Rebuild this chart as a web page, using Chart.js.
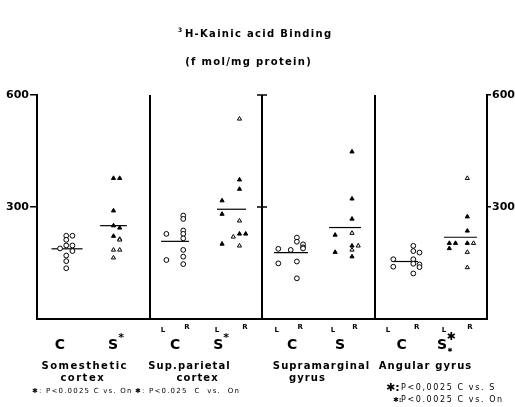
<!DOCTYPE html>
<html>
<head>
<meta charset="utf-8">
<script src="https://cdn.jsdelivr.net/npm/chart.js@4.4.0/dist/chart.umd.min.js"></script>
<style>
  html, body { margin: 0; padding: 0; background: #fff; }
  #wrap { width: 515px; height: 407px; position: relative; }
</style>
</head>
<body>
<div id="wrap"><canvas id="c"></canvas></div>
<script>
// ---- data (fmol/mg protein) ----
const yTicks = [300, 600];
const panelNames = [['Somesthetic', 'cortex'], ['Sup.parietal', 'cortex'], ['Supramarginal', 'gyrus'], ['Angular gyrus']];
const groupNames = ['C', 'S'];
const sideNames = ['L', 'R'];

// Somesthetic cortex (no L/R split)
const somC = [223, 223, 212, 197, 197, 189, 182, 170, 155, 136];
const somSFill = [377, 377, 290, 250, 244, 222];
const somSOpen = [214, 212, 185, 185, 164];
const somMean = [188, 250];

// Sup. parietal cortex
const spcCL = [228, 158];
const spcCR = [277, 268, 237, 228, 216, 185, 167, 147];
const spcSLFill = [317, 281, 201];
const spcSRFill = [373, 348, 228, 228];
const spcSROpen = [536, 263, 220, 196];
const spcMean = [208, 294];

// Supramarginal gyrus
const smgCL = [188, 149];
const smgCR = [218, 207, 200, 192, 189, 185, 154, 109];
const smgSLFill = [225, 179];
const smgSRFill = [448, 322, 268, 196, 167];
const smgSROpen = [230, 196, 185];
const smgMean = [178, 245];

// Angular gyrus
const angCL = [160, 140];
const angCR = [196, 182, 178, 160, 148, 146, 139, 122];
const angSLFill = [203, 203, 189];
const angSRFill = [236, 274, 203];
const angSROpen = [377, 203, 179, 138];
const angMean = [154, 219];

const footLeft = ['\u2731: P<0.0025 C vs. On', '\u2731: P<0.025  C  vs.  On'];
const footRight = ['P<0,0025 C vs. S', 'P<0.0025 C vs. On'];

// ---- layout helpers ----
const BLACK = '#000';
const STYLE = {
  oc: { pointStyle: 'circle', pointRadius: 2.4, pointBackgroundColor: '#fff', pointBorderColor: BLACK, pointBorderWidth: 1 },
  ft: { pointStyle: 'triangle', pointRadius: 2.4, pointBackgroundColor: BLACK, pointBorderColor: BLACK, pointBorderWidth: 1 },
  ot: { pointStyle: 'triangle', pointRadius: 2.4, pointBackgroundColor: '#fff', pointBorderColor: BLACK, pointBorderWidth: 1 },
};

// column: [panel, x fraction inside panel, values, style, column key]
const columns = [
  [0, 0.26, somC, 'oc', 'a'], [0, 0.68, somSFill, 'ft', 'b'], [0, 0.68, somSOpen, 'ot', 'b'],
  [1, 0.15, spcCL, 'oc', 'a'], [1, 0.30, spcCR, 'oc', 'b'], [1, 0.645, spcSLFill, 'ft', 'c'],
  [1, 0.80, spcSRFill, 'ft', 'd'], [1, 0.80, spcSROpen, 'ot', 'd'],
  [2, 0.145, smgCL, 'oc', 'a'], [2, 0.31, smgCR, 'oc', 'b'], [2, 0.65, smgSLFill, 'ft', 'c'],
  [2, 0.80, smgSRFill, 'ft', 'd'], [2, 0.80, smgSROpen, 'ot', 'd'],
  [3, 0.167, angCL, 'oc', 'a'], [3, 0.345, angCR, 'oc', 'b'], [3, 0.665, angSLFill, 'ft', 'c'],
  [3, 0.825, angSRFill, 'ft', 'd'], [3, 0.825, angSROpen, 'ot', 'd'],
];
const means = [somMean, spcMean, smgMean, angMean];
const meanCenter = [[0.267, 0.68], [0.227, 0.729], [0.258, 0.738], [0.276, 0.764]];
const meanHalf = [[0.138, 0.119], [0.124, 0.129], [0.151, 0.142], [0.11, 0.147]];

// spread points that sit on nearly the same value sideways
const placed = {};
const datasets = [];
columns.forEach(([p, f, vals, st, key]) => {
  const id = p + key;
  placed[id] = placed[id] || [];
  const pts = vals.map(v => {
    const k = placed[id].filter(u => Math.abs(u - v) < 9).length;
    placed[id].push(v);
    const off = k === 0 ? 0 : (k % 2 ? 1 : -1) * Math.ceil(k / 2) * 0.055;
    return { x: p + f + off, y: v };
  });
  datasets.push(Object.assign({ type: 'scatter', data: pts }, STYLE[st]));
});
means.forEach((m, p) => {
  m.forEach((v, g) => {
    const c = p + meanCenter[p][g], h = meanHalf[p][g];
    datasets.push({
      type: 'line', data: [{ x: c - h, y: v }, { x: c + h, y: v }],
      borderColor: BLACK, borderWidth: 1.2, pointRadius: 0, fill: false,
    });
  });
});

// text placement (fractions of a panel)
const cLabelX = [0.204, 0.227, 0.267, 0.242];
const sLabelX = [0.676, 0.611, 0.693, 0.60];
const lrX = [null, [0.12, 0.333, 0.60, 0.849], [0.13, 0.34, 0.63, 0.827], [0.12, 0.376, 0.618, 0.849]];
const nameX = [[84, 82], [189, 197], [321, 307], [425]];

function txt(ctx, s, x, y, font, sp, align) {
  ctx.font = font;
  ctx.letterSpacing = (sp || 0) + 'px';
  ctx.textAlign = align || 'center';
  ctx.textBaseline = 'middle';
  ctx.fillStyle = BLACK;
  let xx = x;
  if ((align || 'center') === 'center' && sp) xx += sp / 2;
  ctx.fillText(s, xx, y);
}

const annot = {
  id: 'annot',
  afterDraw(chart) {
    const ctx = chart.ctx;
    const xs = chart.scales.x, ys = chart.scales.y;
    const X = v => xs.getPixelForValue(v);
    ctx.save();
    // title
    txt(ctx, 'H-Kainic acid Binding', 258, 34, 'bold 10px "DejaVu Sans"', 1.3);
    txt(ctx, '3', 180, 30, 'bold 6px "DejaVu Sans"', 0);
    txt(ctx, '(f mol/mg protein)', 248, 62, 'bold 10px "DejaVu Sans"', 1.3);

    // ticks on the divider between panels 2 and 3
    ctx.strokeStyle = BLACK; ctx.lineWidth = 1.5;
    yTicks.forEach(t => {
      const y = ys.getPixelForValue(t);
      ctx.beginPath(); ctx.moveTo(X(2) - 5, y); ctx.lineTo(X(2) + 5, y); ctx.stroke();
    });

    for (let p = 0; p < 4; p++) {
      const gx = [X(p + cLabelX[p]), X(p + sLabelX[p])];
      txt(ctx, groupNames[0], gx[0], 345, 'bold 14px "DejaVu Sans"', 0);
      txt(ctx, groupNames[1], gx[1], 345, 'bold 14px "DejaVu Sans"', 0);
      if (p < 2) txt(ctx, '*', gx[1] + 8, 338, 'bold 11px "DejaVu Sans"', 0);
      if (p === 3) {
        txt(ctx, '\u2731', gx[1] + 9, 337, 'bold 11px "DejaVu Sans"', 0);
        txt(ctx, '\u2731', gx[1] + 8, 350, 'bold 6px "DejaVu Sans"', 0);
      }
      if (lrX[p]) {
        lrX[p].forEach((f, i) => {
          txt(ctx, sideNames[i % 2], X(p + f), i % 2 ? 327 : 330, 'bold 7px "DejaVu Sans"', 0);
        });
      }
      panelNames[p].forEach((line, i) => {
        txt(ctx, line, nameX[p][i], 366 + i * 12, 'bold 10px "DejaVu Sans"', p === 0 ? 1.5 : 1.1);
      });
    }

    // footnotes
    txt(ctx, footLeft[0], 32, 391, '7px "DejaVu Sans"', 1.2, 'left');
    txt(ctx, footLeft[1], 135, 391, '7px "DejaVu Sans"', 1.2, 'left');
    txt(ctx, '\u2731:', 386, 388, 'bold 11px "DejaVu Sans"', 0, 'left');
    txt(ctx, footRight[0], 401, 388, '8px "DejaVu Sans"', 1.6, 'left');
    txt(ctx, '\u2731:', 393, 400, 'bold 7px "DejaVu Sans"', 0, 'left');
    txt(ctx, footRight[1], 401, 400, '8px "DejaVu Sans"', 1.6, 'left');
    ctx.restore();
  },
};

const yAxis = (pos, w) => ({
  type: 'linear', position: pos, min: 0, max: 600,
  afterBuildTicks: s => { s.ticks = yTicks.map(v => ({ value: v })); },
  afterFit: s => { s.width = w; },
  border: { display: true, color: BLACK, width: 2 },
  grid: { drawOnChartArea: false, drawTicks: true, tickLength: pos === 'left' ? 7 : 4, color: BLACK, lineWidth: 1.5 },
  ticks: { color: BLACK, padding: 1, font: { family: 'DejaVu Sans', weight: 'bold', size: 11 } },
});

new Chart(document.getElementById('c'), {
  type: 'scatter',
  data: { datasets },
  options: {
    responsive: true,
    maintainAspectRatio: false,
    animation: false,
    devicePixelRatio: 1,
    layout: { padding: { top: 95, left: 0, right: 0, bottom: 0 } },
    plugins: { legend: { display: false }, tooltip: { enabled: false }, title: { display: false } },
    scales: {
      x: {
        type: 'linear', min: 0, max: 4,
        afterFit: s => { s.height = 88; },
        ticks: { display: false, stepSize: 1 },
        grid: { drawTicks: false, drawOnChartArea: true, color: BLACK, lineWidth: 2 },
        border: { display: true, color: BLACK, width: 2 },
      },
      y: yAxis('left', 37),
      y2: yAxis('right', 28),
    },
  },
  plugins: [annot],
});
</script>
</body>
</html>
